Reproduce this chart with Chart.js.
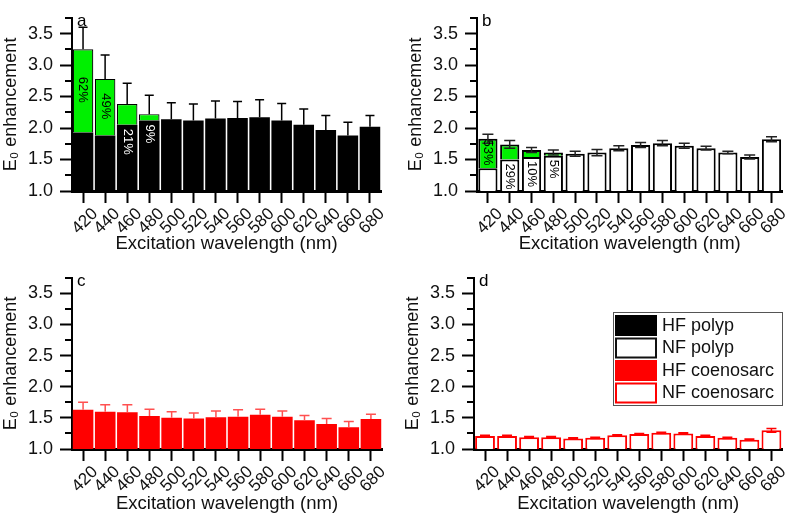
<!DOCTYPE html>
<html><head><meta charset="utf-8">
<script src="https://cdn.jsdelivr.net/npm/chart.js@4.4.1/dist/chart.umd.min.js"></script>
<style>
html,body{margin:0;padding:0;background:#fff;}
#wrap{position:relative;width:787px;height:520px;overflow:hidden;background:#fff;}
canvas{position:absolute;}
</style></head><body>
<div id="wrap">
<canvas id="pa" width="395" height="260" style="left:0px;top:0px"></canvas>
<canvas id="pb" width="382" height="260" style="left:405px;top:0px"></canvas>
<canvas id="pc" width="395" height="260" style="left:0px;top:260px"></canvas>
<canvas id="pd" width="385" height="260" style="left:402px;top:260px"></canvas>
</div>
<script>
// ---- data ----
const wavelengths = ['420','440','460','480','500','520','540','560','580','600','620','640','660','680'];
const seriesNames = ['HF polyp','NF polyp','HF coenosarc','NF coenosarc'];
const panelLetters = ['a','b','c','d'];
const xTitle = 'Excitation wavelength (nm)';
const yTitle = 'E\u2080 enhancement';
const yTickValues = [1.0,1.5,2.0,2.5,3.0,3.5];
const yMinorValues = [1.25,1.75,2.25,2.75,3.25,3.75];

const hfPolyp      = [3.25,2.78,2.38,2.22,2.14,2.12,2.15,2.16,2.17,2.12,2.05,1.97,1.88,2.02];
const hfPolypErr   = [0.35,0.38,0.33,0.30,0.26,0.26,0.28,0.26,0.28,0.27,0.25,0.23,0.21,0.18];
const hfPolypBase  = [1.93,1.88,2.05,2.12,null,null,null,null,null,null,null,null,null,null];
const hfPolypPct   = ['62%','49%','21%','9%',null,null,null,null,null,null,null,null,null,null];

const nfPolyp      = [1.83,1.74,1.65,1.61,1.59,1.61,1.68,1.73,1.76,1.72,1.68,1.61,1.54,1.82];
const nfPolypErr   = [0.07,0.06,0.04,0.04,0.04,0.05,0.04,0.04,0.04,0.04,0.03,0.02,0.03,0.04];
const nfPolypBase  = [1.36,1.50,1.54,1.56,null,null,null,null,null,null,null,null,null,null];
const nfPolypPct   = ['53%','29%','10%','5%',null,null,null,null,null,null,null,null,null,null];

const hfCoeno      = [1.63,1.60,1.59,1.53,1.50,1.49,1.51,1.52,1.55,1.52,1.46,1.40,1.35,1.48];
const hfCoenoErr   = [0.12,0.11,0.12,0.11,0.10,0.09,0.10,0.11,0.09,0.09,0.08,0.09,0.09,0.08];

const nfCoeno      = [1.21,1.21,1.19,1.19,1.17,1.18,1.22,1.24,1.26,1.25,1.21,1.18,1.15,1.30];
const nfCoenoErr   = [0.01,0.01,0.01,0.01,0.01,0.01,0.01,0.01,0.01,0.01,0.01,0.01,0.01,0.03];

const yMin = 1.0, yMax = 3.75;

// ---- styling ----
const FONT = "'Liberation Sans', Arial, Helvetica, sans-serif";
const GREEN = '#00f000', RED = '#ff0000';

const legendStyles = [
  {fill:'#000000', stroke:null},
  {fill:'#ffffff', stroke:'#111111'},
  {fill:RED, stroke:null},
  {fill:'#ffffff', stroke:RED}
];

const panelDecor = {
  pa:{letter:panelLetters[0], vals:hfPolyp, err:hfPolypErr, mode:'up', errColor:'#000', errW:1.5, cap:9,
      base:hfPolypBase, pct:hfPolypPct, belowColor:'#ffffff'},
  pb:{letter:panelLetters[1], vals:nfPolyp, err:nfPolypErr, mode:'both', errColor:'#222', errW:1.5, cap:11,
      base:nfPolypBase, pct:nfPolypPct, belowColor:'#000000'},
  pc:{letter:panelLetters[2], vals:hfCoeno, err:hfCoenoErr, mode:'up', errColor:'#ff5050', errW:1.5, cap:10},
  pd:{letter:panelLetters[3], vals:nfCoeno, err:nfCoenoErr, mode:'both', errColor:RED, errW:1.5, cap:10, legend:true}
};

const decor = {
  id:'decor',
  afterDatasetsDraw(chart){
    const d = panelDecor[chart.canvas.id];
    const ctx = chart.ctx, xs = chart.scales.x, ys = chart.scales.y, area = chart.chartArea;
    ctx.save();
    // minor y ticks
    ctx.strokeStyle = '#000'; ctx.lineWidth = 2;
    yMinorValues.forEach(v=>{
      const py = Math.round(ys.getPixelForValue(v));
      ctx.beginPath(); ctx.moveTo(area.left - 7, py); ctx.lineTo(area.left, py); ctx.stroke();
    });
    // error bars
    ctx.strokeStyle = d.errColor; ctx.lineWidth = d.errW;
    d.vals.forEach((v,i)=>{
      const cx = xs.getPixelForValue(i);
      const top = ys.getPixelForValue(v + d.err[i]);
      const bot = d.mode === 'both' ? ys.getPixelForValue(v - d.err[i]) : ys.getPixelForValue(v);
      ctx.beginPath();
      ctx.moveTo(cx, top); ctx.lineTo(cx, bot);
      ctx.moveTo(cx - d.cap/2, top); ctx.lineTo(cx + d.cap/2, top);
      if (d.mode === 'both') { ctx.moveTo(cx - d.cap/2, bot); ctx.lineTo(cx + d.cap/2, bot); }
      ctx.stroke();
    });
    // percentage labels
    if (d.pct) {
      ctx.font = '13px ' + FONT;
      d.pct.forEach((p,i)=>{
        if (!p) return;
        const cx = xs.getPixelForValue(i);
        const pTop = ys.getPixelForValue(d.vals[i]);
        const pBase = ys.getPixelForValue(d.base[i]);
        const w = ctx.measureText(p).width;
        ctx.save();
        ctx.textBaseline = 'middle';
        if (pBase - pTop >= w + 1) {
          ctx.translate(cx, (pTop + pBase)/2 - 1);
          ctx.rotate(Math.PI/2);
          ctx.textAlign = 'center';
          ctx.fillStyle = '#000';
        } else {
          ctx.translate(cx, pBase + 4);
          ctx.rotate(Math.PI/2);
          ctx.textAlign = 'left';
          ctx.fillStyle = d.belowColor;
        }
        ctx.fillText(p, 0, 0);
        ctx.restore();
      });
    }
    // panel letter
    ctx.fillStyle = '#000';
    ctx.font = '17px ' + FONT;
    ctx.textAlign = 'left'; ctx.textBaseline = 'alphabetic';
    ctx.fillText(d.letter, area.left + 5, area.top + 8);
    // legend
    if (d.legend) {
      const bx = 211, by = 52, bw = 169, bh = 93;
      ctx.strokeStyle = '#555'; ctx.lineWidth = 1;
      ctx.fillStyle = '#fff';
      ctx.fillRect(bx, by, bw, bh);
      ctx.strokeRect(bx + 0.5, by + 0.5, bw, bh);
      ctx.font = '18px ' + FONT;
      ctx.textBaseline = 'middle';
      seriesNames.forEach((name,k)=>{
        const st = legendStyles[k];
        const ry = by + 3 + k*22.5;
        ctx.fillStyle = st.fill;
        ctx.fillRect(bx + 2, ry, 42, 21);
        if (st.stroke) { ctx.strokeStyle = st.stroke; ctx.lineWidth = 2; ctx.strokeRect(bx + 3, ry + 1, 40, 19); }
        ctx.fillStyle = '#111';
        ctx.fillText(name, bx + 49, ry + 11);
      });
    }
    ctx.restore();
  }
};

function makeChart(id, datasets, lay) {
  return new Chart(document.getElementById(id), {
    type:'bar',
    data:{labels:wavelengths, datasets},
    options:{
      responsive:false, animation:false, devicePixelRatio:1,
      layout:{padding:{top:lay.top, right:lay.right, bottom:5, left:0}},
      plugins:{legend:{display:false}, tooltip:{enabled:false}},
      scales:{
        x:{
          stacked:true, offset:true,
          grid:{display:true, offset:false, drawOnChartArea:false, drawTicks:true, tickLength:12, tickWidth:2, tickColor:'#000'},
          border:{display:true, color:'#000', width:3},
          ticks:{autoSkip:false, minRotation:45, maxRotation:45, padding:1, labelOffset:12, color:'#111', font:{family:FONT, size:17}},
          title:{display:true, text:xTitle, color:'#111', font:{family:FONT, size:18.5}, padding:0},
          afterFit:s=>{ s.height = lay.xh; }
        },
        y:{
          min:yMin, max:yMax, stacked:false,
          afterBuildTicks:s=>{ s.ticks = yTickValues.map(v=>({value:v})); },
          grid:{display:true, drawOnChartArea:false, drawTicks:true, tickLength:12, tickWidth:2, tickColor:'#000'},
          border:{display:true, color:'#000', width:2},
          ticks:{padding:7, color:'#111', font:{family:FONT, size:18},
                 callback:v=> Number(v).toFixed(1)},
          title:{display:true, text:yTitle, color:'#111', font:{family:FONT, size:18}, padding:0},
          afterFit:s=>{ s.width = 72; }
        }
      }
    },
    plugins:[decor]
  });
}

function baseOf(vals, base){ return vals.map((v,i)=> base[i] != null ? base[i] : v); }
function greenOf(vals, base){ return vals.map((v,i)=> base[i] != null ? [base[i], v] : null); }

makeChart('pa', [
  {label:seriesNames[0], data:baseOf(hfPolyp, hfPolypBase), backgroundColor:'#000', borderWidth:0, barPercentage:0.93, categoryPercentage:1},
  {label:seriesNames[0]+' (green)', data:greenOf(hfPolyp, hfPolypBase), backgroundColor:GREEN, borderColor:'#000', borderWidth:1.2, borderSkipped:'start', barPercentage:0.93, categoryPercentage:1}
], {top:6, right:14, xh:64});

makeChart('pb', [
  {label:seriesNames[1], data:baseOf(nfPolyp, nfPolypBase), backgroundColor:'#fff', borderColor:'#000', borderWidth:2, barPercentage:0.88, categoryPercentage:1},
  {label:seriesNames[1]+' (green)', data:greenOf(nfPolyp, nfPolypBase), backgroundColor:GREEN, borderColor:'#000', borderWidth:2, borderSkipped:'start', barPercentage:0.88, categoryPercentage:1}
], {top:6, right:2, xh:64});

makeChart('pc', [
  {label:seriesNames[2], data:hfCoeno, backgroundColor:RED, borderWidth:0, barPercentage:0.93, categoryPercentage:1}
], {top:5, right:13, xh:66});

makeChart('pd', [
  {label:seriesNames[3], data:nfCoeno, backgroundColor:'#fff', borderColor:RED, borderWidth:2, barPercentage:0.9, categoryPercentage:1}
], {top:5, right:4, xh:66});
</script>
</body></html>
